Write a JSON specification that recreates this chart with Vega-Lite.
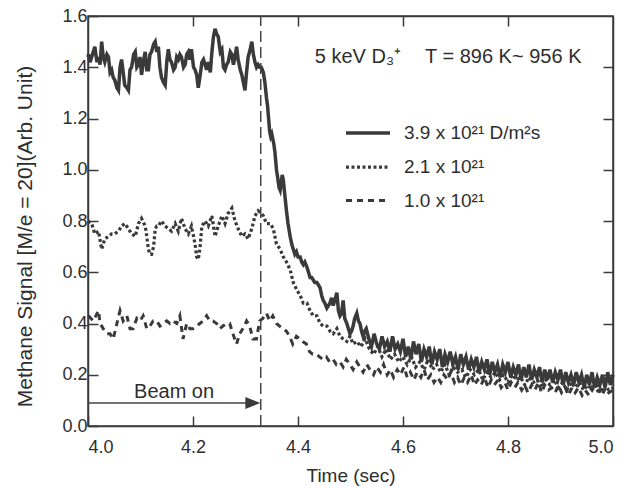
{
"$schema": "https://vega.github.io/schema/vega-lite/v6.json",
"width": 525, "height": 410,
"autosize": "none",
"padding": {"left": 88, "top": 16, "right": 23, "bottom": 62},
"background": "white",
"config": {
 "font": "Liberation Sans",
 "view": {"stroke": "#3a3a3a", "strokeWidth": 1.5},
 "axis": {"grid": false, "domainColor": "#3a3a3a", "domainWidth": 1.5, "tickColor": "#3a3a3a", "tickWidth": 1.5, "tickSize": -10, "labelFontSize": 18, "labelColor": "#2e2e2e", "titleFontSize": 19, "titleFontWeight": "normal", "titleColor": "#2e2e2e", "labelFont": "Liberation Sans", "titleFont": "Liberation Sans"}
},
"data": {"values": [{}]},
"datasets": {"sig": [
{"s":"a","t":4.000,"v":1.44},{"s":"a","t":4.001,"v":1.45},{"s":"a","t":4.004,"v":1.42},{"s":"a","t":4.007,"v":1.44},{"s":"a","t":4.010,"v":1.46},{"s":"a","t":4.013,"v":1.48},{"s":"a","t":4.017,"v":1.42},{"s":"a","t":4.020,"v":1.44},{"s":"a","t":4.023,"v":1.41},{"s":"a","t":4.026,"v":1.50},{"s":"a","t":4.029,"v":1.44},{"s":"a","t":4.032,"v":1.42},{"s":"a","t":4.036,"v":1.45},{"s":"a","t":4.039,"v":1.44},{"s":"a","t":4.042,"v":1.38},{"s":"a","t":4.045,"v":1.39},{"s":"a","t":4.048,"v":1.36},{"s":"a","t":4.051,"v":1.35},{"s":"a","t":4.055,"v":1.32},{"s":"a","t":4.058,"v":1.31},{"s":"a","t":4.061,"v":1.40},{"s":"a","t":4.064,"v":1.43},{"s":"a","t":4.067,"v":1.38},{"s":"a","t":4.070,"v":1.33},{"s":"a","t":4.074,"v":1.32},{"s":"a","t":4.077,"v":1.31},{"s":"a","t":4.080,"v":1.39},{"s":"a","t":4.083,"v":1.40},{"s":"a","t":4.087,"v":1.45},{"s":"a","t":4.090,"v":1.46},{"s":"a","t":4.093,"v":1.40},{"s":"a","t":4.096,"v":1.41},{"s":"a","t":4.099,"v":1.44},{"s":"a","t":4.102,"v":1.37},{"s":"a","t":4.106,"v":1.43},{"s":"a","t":4.109,"v":1.46},{"s":"a","t":4.112,"v":1.39},{"s":"a","t":4.115,"v":1.39},{"s":"a","t":4.118,"v":1.45},{"s":"a","t":4.121,"v":1.46},{"s":"a","t":4.125,"v":1.49},{"s":"a","t":4.128,"v":1.50},{"s":"a","t":4.131,"v":1.46},{"s":"a","t":4.134,"v":1.48},{"s":"a","t":4.137,"v":1.40},{"s":"a","t":4.140,"v":1.36},{"s":"a","t":4.144,"v":1.34},{"s":"a","t":4.147,"v":1.33},{"s":"a","t":4.150,"v":1.42},{"s":"a","t":4.153,"v":1.47},{"s":"a","t":4.156,"v":1.43},{"s":"a","t":4.159,"v":1.42},{"s":"a","t":4.163,"v":1.39},{"s":"a","t":4.166,"v":1.40},{"s":"a","t":4.169,"v":1.44},{"s":"a","t":4.172,"v":1.43},{"s":"a","t":4.175,"v":1.45},{"s":"a","t":4.178,"v":1.44},{"s":"a","t":4.182,"v":1.40},{"s":"a","t":4.185,"v":1.41},{"s":"a","t":4.188,"v":1.45},{"s":"a","t":4.191,"v":1.46},{"s":"a","t":4.194,"v":1.43},{"s":"a","t":4.197,"v":1.47},{"s":"a","t":4.201,"v":1.40},{"s":"a","t":4.204,"v":1.39},{"s":"a","t":4.207,"v":1.37},{"s":"a","t":4.210,"v":1.32},{"s":"a","t":4.213,"v":1.36},{"s":"a","t":4.217,"v":1.42},{"s":"a","t":4.220,"v":1.43},{"s":"a","t":4.223,"v":1.41},{"s":"a","t":4.226,"v":1.39},{"s":"a","t":4.229,"v":1.42},{"s":"a","t":4.233,"v":1.38},{"s":"a","t":4.236,"v":1.46},{"s":"a","t":4.239,"v":1.52},{"s":"a","t":4.242,"v":1.55},{"s":"a","t":4.245,"v":1.53},{"s":"a","t":4.248,"v":1.52},{"s":"a","t":4.252,"v":1.46},{"s":"a","t":4.255,"v":1.47},{"s":"a","t":4.258,"v":1.40},{"s":"a","t":4.261,"v":1.39},{"s":"a","t":4.264,"v":1.41},{"s":"a","t":4.267,"v":1.42},{"s":"a","t":4.271,"v":1.46},{"s":"a","t":4.274,"v":1.45},{"s":"a","t":4.277,"v":1.41},{"s":"a","t":4.280,"v":1.44},{"s":"a","t":4.283,"v":1.48},{"s":"a","t":4.286,"v":1.43},{"s":"a","t":4.290,"v":1.39},{"s":"a","t":4.293,"v":1.37},{"s":"a","t":4.296,"v":1.34},{"s":"a","t":4.299,"v":1.31},{"s":"a","t":4.302,"v":1.38},{"s":"a","t":4.305,"v":1.44},{"s":"a","t":4.309,"v":1.47},{"s":"a","t":4.312,"v":1.50},{"s":"a","t":4.315,"v":1.45},{"s":"a","t":4.318,"v":1.42},{"s":"a","t":4.321,"v":1.40},{"s":"a","t":4.324,"v":1.41},{"s":"a","t":4.327,"v":1.40},
{"s":"a","t":4.330,"v":1.40},{"s":"a","t":4.334,"v":1.38},{"s":"a","t":4.337,"v":1.34},{"s":"a","t":4.340,"v":1.28},{"s":"a","t":4.342,"v":1.25},{"s":"a","t":4.344,"v":1.20},{"s":"a","t":4.346,"v":1.15},{"s":"a","t":4.348,"v":1.13},{"s":"a","t":4.350,"v":1.14},{"s":"a","t":4.352,"v":1.12},{"s":"a","t":4.354,"v":1.10},{"s":"a","t":4.356,"v":1.07},{"s":"a","t":4.359,"v":1.00},{"s":"a","t":4.362,"v":0.96},{"s":"a","t":4.364,"v":0.93},{"s":"a","t":4.366,"v":0.92},{"s":"a","t":4.368,"v":0.95},{"s":"a","t":4.370,"v":0.98},{"s":"a","t":4.372,"v":0.96},{"s":"a","t":4.374,"v":0.92},{"s":"a","t":4.376,"v":0.88},{"s":"a","t":4.378,"v":0.84},{"s":"a","t":4.381,"v":0.79},{"s":"a","t":4.385,"v":0.74},{"s":"a","t":4.388,"v":0.71},{"s":"a","t":4.391,"v":0.69},{"s":"a","t":4.394,"v":0.67},{"s":"a","t":4.397,"v":0.68},{"s":"a","t":4.400,"v":0.66},{"s":"a","t":4.404,"v":0.66},{"s":"a","t":4.407,"v":0.64},{"s":"a","t":4.410,"v":0.63},{"s":"a","t":4.413,"v":0.64},{"s":"a","t":4.417,"v":0.62},{"s":"a","t":4.420,"v":0.60},{"s":"a","t":4.423,"v":0.58},{"s":"a","t":4.426,"v":0.58},{"s":"a","t":4.429,"v":0.57},{"s":"a","t":4.432,"v":0.56},{"s":"a","t":4.436,"v":0.56},{"s":"a","t":4.439,"v":0.55},{"s":"a","t":4.442,"v":0.54},{"s":"a","t":4.445,"v":0.51},{"s":"a","t":4.448,"v":0.49},{"s":"a","t":4.451,"v":0.48},{"s":"a","t":4.455,"v":0.46},{"s":"a","t":4.458,"v":0.47},{"s":"a","t":4.461,"v":0.48},{"s":"a","t":4.464,"v":0.50},{"s":"a","t":4.467,"v":0.47},{"s":"a","t":4.470,"v":0.49},{"s":"a","t":4.474,"v":0.52},{"s":"a","t":4.477,"v":0.45},{"s":"a","t":4.480,"v":0.43},{"s":"a","t":4.483,"v":0.44},{"s":"a","t":4.486,"v":0.49},{"s":"a","t":4.489,"v":0.42},{"s":"a","t":4.493,"v":0.40},{"s":"a","t":4.496,"v":0.38},{"s":"a","t":4.499,"v":0.36},{"s":"a","t":4.502,"v":0.37},{"s":"a","t":4.505,"v":0.39},{"s":"a","t":4.508,"v":0.42},{"s":"a","t":4.512,"v":0.44},{"s":"a","t":4.515,"v":0.41},{"s":"a","t":4.518,"v":0.40},{"s":"a","t":4.521,"v":0.37},{"s":"a","t":4.524,"v":0.35},{"s":"a","t":4.527,"v":0.37},{"s":"a","t":4.530,"v":0.38},
{"s":"a","t":4.535,"v":0.34},{"s":"a","t":4.540,"v":0.31},{"s":"a","t":4.545,"v":0.36},{"s":"a","t":4.550,"v":0.32},{"s":"a","t":4.555,"v":0.30},{"s":"a","t":4.560,"v":0.35},{"s":"a","t":4.565,"v":0.31},{"s":"a","t":4.570,"v":0.33},{"s":"a","t":4.575,"v":0.29},{"s":"a","t":4.580,"v":0.35},{"s":"a","t":4.585,"v":0.30},{"s":"a","t":4.590,"v":0.32},{"s":"a","t":4.595,"v":0.29},{"s":"a","t":4.600,"v":0.34},{"s":"a","t":4.605,"v":0.27},{"s":"a","t":4.610,"v":0.31},{"s":"a","t":4.615,"v":0.26},{"s":"a","t":4.620,"v":0.33},{"s":"a","t":4.625,"v":0.28},{"s":"a","t":4.630,"v":0.32},{"s":"a","t":4.635,"v":0.25},{"s":"a","t":4.640,"v":0.30},{"s":"a","t":4.645,"v":0.27},{"s":"a","t":4.650,"v":0.31},{"s":"a","t":4.655,"v":0.24},{"s":"a","t":4.660,"v":0.29},{"s":"a","t":4.665,"v":0.26},{"s":"a","t":4.670,"v":0.30},{"s":"a","t":4.675,"v":0.23},{"s":"a","t":4.680,"v":0.28},{"s":"a","t":4.685,"v":0.25},{"s":"a","t":4.690,"v":0.29},{"s":"a","t":4.695,"v":0.24},{"s":"a","t":4.700,"v":0.27},{"s":"a","t":4.705,"v":0.22},{"s":"a","t":4.710,"v":0.28},{"s":"a","t":4.715,"v":0.24},{"s":"a","t":4.720,"v":0.27},{"s":"a","t":4.725,"v":0.22},{"s":"a","t":4.730,"v":0.26},{"s":"a","t":4.735,"v":0.23},{"s":"a","t":4.740,"v":0.27},{"s":"a","t":4.745,"v":0.21},{"s":"a","t":4.750,"v":0.25},{"s":"a","t":4.755,"v":0.22},{"s":"a","t":4.760,"v":0.26},{"s":"a","t":4.765,"v":0.20},{"s":"a","t":4.770,"v":0.25},{"s":"a","t":4.775,"v":0.21},{"s":"a","t":4.780,"v":0.24},{"s":"a","t":4.785,"v":0.19},{"s":"a","t":4.790,"v":0.24},{"s":"a","t":4.795,"v":0.21},{"s":"a","t":4.800,"v":0.25},{"s":"a","t":4.805,"v":0.19},{"s":"a","t":4.810,"v":0.23},{"s":"a","t":4.815,"v":0.20},{"s":"a","t":4.820,"v":0.24},{"s":"a","t":4.825,"v":0.18},{"s":"a","t":4.830,"v":0.23},{"s":"a","t":4.835,"v":0.19},{"s":"a","t":4.840,"v":0.24},{"s":"a","t":4.845,"v":0.18},{"s":"a","t":4.850,"v":0.22},{"s":"a","t":4.855,"v":0.19},{"s":"a","t":4.860,"v":0.23},{"s":"a","t":4.865,"v":0.17},{"s":"a","t":4.870,"v":0.22},{"s":"a","t":4.875,"v":0.18},{"s":"a","t":4.880,"v":0.22},{"s":"a","t":4.885,"v":0.17},{"s":"a","t":4.890,"v":0.21},{"s":"a","t":4.895,"v":0.18},{"s":"a","t":4.900,"v":0.22},{"s":"a","t":4.905,"v":0.16},{"s":"a","t":4.910,"v":0.21},{"s":"a","t":4.915,"v":0.17},{"s":"a","t":4.920,"v":0.20},{"s":"a","t":4.925,"v":0.16},{"s":"a","t":4.930,"v":0.21},{"s":"a","t":4.935,"v":0.17},{"s":"a","t":4.940,"v":0.20},{"s":"a","t":4.945,"v":0.15},{"s":"a","t":4.950,"v":0.20},{"s":"a","t":4.955,"v":0.16},{"s":"a","t":4.960,"v":0.21},{"s":"a","t":4.965,"v":0.15},{"s":"a","t":4.970,"v":0.19},{"s":"a","t":4.975,"v":0.16},{"s":"a","t":4.980,"v":0.20},{"s":"a","t":4.985,"v":0.15},{"s":"a","t":4.990,"v":0.21},{"s":"a","t":4.995,"v":0.16},{"s":"a","t":5.000,"v":0.20},
{"s":"b","t":4.000,"v":0.80},{"s":"b","t":4.007,"v":0.79},{"s":"b","t":4.013,"v":0.75},{"s":"b","t":4.020,"v":0.76},{"s":"b","t":4.026,"v":0.69},{"s":"b","t":4.029,"v":0.71},{"s":"b","t":4.032,"v":0.73},{"s":"b","t":4.039,"v":0.74},{"s":"b","t":4.045,"v":0.75},{"s":"b","t":4.051,"v":0.75},{"s":"b","t":4.058,"v":0.76},{"s":"b","t":4.064,"v":0.78},{"s":"b","t":4.070,"v":0.79},{"s":"b","t":4.077,"v":0.77},{"s":"b","t":4.083,"v":0.75},{"s":"b","t":4.090,"v":0.74},{"s":"b","t":4.096,"v":0.79},{"s":"b","t":4.102,"v":0.81},{"s":"b","t":4.109,"v":0.78},{"s":"b","t":4.112,"v":0.74},{"s":"b","t":4.115,"v":0.69},{"s":"b","t":4.118,"v":0.67},{"s":"b","t":4.121,"v":0.67},{"s":"b","t":4.125,"v":0.70},{"s":"b","t":4.128,"v":0.77},{"s":"b","t":4.131,"v":0.78},{"s":"b","t":4.134,"v":0.78},{"s":"b","t":4.140,"v":0.80},{"s":"b","t":4.147,"v":0.78},{"s":"b","t":4.153,"v":0.77},{"s":"b","t":4.159,"v":0.76},{"s":"b","t":4.166,"v":0.79},{"s":"b","t":4.172,"v":0.76},{"s":"b","t":4.178,"v":0.81},{"s":"b","t":4.185,"v":0.77},{"s":"b","t":4.191,"v":0.75},{"s":"b","t":4.197,"v":0.78},{"s":"b","t":4.204,"v":0.71},{"s":"b","t":4.207,"v":0.66},{"s":"b","t":4.210,"v":0.65},{"s":"b","t":4.213,"v":0.69},{"s":"b","t":4.217,"v":0.78},{"s":"b","t":4.223,"v":0.80},{"s":"b","t":4.229,"v":0.78},{"s":"b","t":4.236,"v":0.82},{"s":"b","t":4.242,"v":0.74},{"s":"b","t":4.248,"v":0.78},{"s":"b","t":4.255,"v":0.82},{"s":"b","t":4.261,"v":0.79},{"s":"b","t":4.267,"v":0.83},{"s":"b","t":4.274,"v":0.85},{"s":"b","t":4.280,"v":0.80},{"s":"b","t":4.286,"v":0.77},{"s":"b","t":4.293,"v":0.74},{"s":"b","t":4.299,"v":0.75},{"s":"b","t":4.305,"v":0.73},{"s":"b","t":4.312,"v":0.77},{"s":"b","t":4.318,"v":0.82},{"s":"b","t":4.324,"v":0.84},{"s":"b","t":4.330,"v":0.83},
{"s":"b","t":4.334,"v":0.82},{"s":"b","t":4.340,"v":0.79},{"s":"b","t":4.347,"v":0.79},{"s":"b","t":4.353,"v":0.77},{"s":"b","t":4.359,"v":0.71},{"s":"b","t":4.366,"v":0.69},{"s":"b","t":4.372,"v":0.66},{"s":"b","t":4.378,"v":0.64},{"s":"b","t":4.385,"v":0.61},{"s":"b","t":4.391,"v":0.56},{"s":"b","t":4.398,"v":0.53},{"s":"b","t":4.404,"v":0.51},{"s":"b","t":4.410,"v":0.48},{"s":"b","t":4.417,"v":0.48},{"s":"b","t":4.423,"v":0.45},{"s":"b","t":4.429,"v":0.43},{"s":"b","t":4.436,"v":0.43},{"s":"b","t":4.442,"v":0.40},{"s":"b","t":4.448,"v":0.39},{"s":"b","t":4.455,"v":0.39},{"s":"b","t":4.461,"v":0.37},{"s":"b","t":4.467,"v":0.36},{"s":"b","t":4.474,"v":0.38},{"s":"b","t":4.480,"v":0.35},{"s":"b","t":4.486,"v":0.34},{"s":"b","t":4.493,"v":0.33},{"s":"b","t":4.499,"v":0.35},{"s":"b","t":4.505,"v":0.32},{"s":"b","t":4.512,"v":0.33},{"s":"b","t":4.520,"v":0.31},{"s":"b","t":4.528,"v":0.34},{"s":"b","t":4.536,"v":0.30},{"s":"b","t":4.544,"v":0.28},{"s":"b","t":4.552,"v":0.31},{"s":"b","t":4.560,"v":0.27},{"s":"b","t":4.568,"v":0.30},{"s":"b","t":4.576,"v":0.26},{"s":"b","t":4.584,"v":0.28},{"s":"b","t":4.592,"v":0.25},{"s":"b","t":4.600,"v":0.27},{"s":"b","t":4.608,"v":0.24},{"s":"b","t":4.616,"v":0.27},{"s":"b","t":4.624,"v":0.23},{"s":"b","t":4.632,"v":0.25},{"s":"b","t":4.640,"v":0.22},{"s":"b","t":4.648,"v":0.26},{"s":"b","t":4.656,"v":0.22},{"s":"b","t":4.664,"v":0.24},{"s":"b","t":4.672,"v":0.21},{"s":"b","t":4.680,"v":0.24},{"s":"b","t":4.688,"v":0.20},{"s":"b","t":4.696,"v":0.23},{"s":"b","t":4.704,"v":0.21},{"s":"b","t":4.712,"v":0.22},{"s":"b","t":4.720,"v":0.19},{"s":"b","t":4.728,"v":0.22},{"s":"b","t":4.736,"v":0.20},{"s":"b","t":4.744,"v":0.22},{"s":"b","t":4.752,"v":0.18},{"s":"b","t":4.760,"v":0.21},{"s":"b","t":4.768,"v":0.19},{"s":"b","t":4.776,"v":0.21},{"s":"b","t":4.784,"v":0.18},{"s":"b","t":4.792,"v":0.20},{"s":"b","t":4.800,"v":0.17},{"s":"b","t":4.808,"v":0.20},{"s":"b","t":4.816,"v":0.18},{"s":"b","t":4.824,"v":0.19},{"s":"b","t":4.832,"v":0.16},{"s":"b","t":4.840,"v":0.19},{"s":"b","t":4.848,"v":0.17},{"s":"b","t":4.856,"v":0.18},{"s":"b","t":4.864,"v":0.15},{"s":"b","t":4.872,"v":0.18},{"s":"b","t":4.880,"v":0.16},{"s":"b","t":4.888,"v":0.18},{"s":"b","t":4.896,"v":0.15},{"s":"b","t":4.904,"v":0.17},{"s":"b","t":4.912,"v":0.14},{"s":"b","t":4.920,"v":0.17},{"s":"b","t":4.928,"v":0.15},{"s":"b","t":4.936,"v":0.17},{"s":"b","t":4.944,"v":0.14},{"s":"b","t":4.952,"v":0.16},{"s":"b","t":4.960,"v":0.14},{"s":"b","t":4.968,"v":0.17},{"s":"b","t":4.976,"v":0.13},{"s":"b","t":4.984,"v":0.16},{"s":"b","t":4.992,"v":0.14},{"s":"b","t":5.000,"v":0.15},
{"s":"c","t":4.001,"v":0.43},{"s":"c","t":4.010,"v":0.41},{"s":"c","t":4.020,"v":0.45},{"s":"c","t":4.023,"v":0.40},{"s":"c","t":4.029,"v":0.38},{"s":"c","t":4.036,"v":0.36},{"s":"c","t":4.042,"v":0.36},{"s":"c","t":4.048,"v":0.34},{"s":"c","t":4.055,"v":0.40},{"s":"c","t":4.061,"v":0.45},{"s":"c","t":4.067,"v":0.41},{"s":"c","t":4.074,"v":0.43},{"s":"c","t":4.080,"v":0.38},{"s":"c","t":4.086,"v":0.38},{"s":"c","t":4.093,"v":0.42},{"s":"c","t":4.099,"v":0.41},{"s":"c","t":4.105,"v":0.43},{"s":"c","t":4.112,"v":0.38},{"s":"c","t":4.118,"v":0.39},{"s":"c","t":4.124,"v":0.41},{"s":"c","t":4.131,"v":0.41},{"s":"c","t":4.137,"v":0.39},{"s":"c","t":4.143,"v":0.40},{"s":"c","t":4.150,"v":0.41},{"s":"c","t":4.156,"v":0.40},{"s":"c","t":4.162,"v":0.41},{"s":"c","t":4.169,"v":0.40},{"s":"c","t":4.175,"v":0.43},{"s":"c","t":4.181,"v":0.34},{"s":"c","t":4.188,"v":0.40},{"s":"c","t":4.194,"v":0.38},{"s":"c","t":4.200,"v":0.38},{"s":"c","t":4.207,"v":0.39},{"s":"c","t":4.213,"v":0.40},{"s":"c","t":4.219,"v":0.41},{"s":"c","t":4.226,"v":0.43},{"s":"c","t":4.232,"v":0.41},{"s":"c","t":4.238,"v":0.41},{"s":"c","t":4.245,"v":0.40},{"s":"c","t":4.251,"v":0.38},{"s":"c","t":4.257,"v":0.39},{"s":"c","t":4.264,"v":0.40},{"s":"c","t":4.270,"v":0.40},{"s":"c","t":4.276,"v":0.36},{"s":"c","t":4.283,"v":0.32},{"s":"c","t":4.289,"v":0.36},{"s":"c","t":4.295,"v":0.38},{"s":"c","t":4.302,"v":0.41},{"s":"c","t":4.308,"v":0.39},{"s":"c","t":4.314,"v":0.34},{"s":"c","t":4.321,"v":0.34},{"s":"c","t":4.327,"v":0.41},{"s":"c","t":4.333,"v":0.42},{"s":"c","t":4.340,"v":0.44},{"s":"c","t":4.346,"v":0.41},{"s":"c","t":4.352,"v":0.43},{"s":"c","t":4.359,"v":0.40},{"s":"c","t":4.365,"v":0.39},{"s":"c","t":4.371,"v":0.38},{"s":"c","t":4.378,"v":0.37},{"s":"c","t":4.384,"v":0.35},{"s":"c","t":4.390,"v":0.32},{"s":"c","t":4.397,"v":0.35},{"s":"c","t":4.403,"v":0.34},{"s":"c","t":4.409,"v":0.33},{"s":"c","t":4.416,"v":0.32},{"s":"c","t":4.422,"v":0.29},{"s":"c","t":4.428,"v":0.28},{"s":"c","t":4.435,"v":0.28},{"s":"c","t":4.441,"v":0.27},{"s":"c","t":4.447,"v":0.26},{"s":"c","t":4.454,"v":0.27},{"s":"c","t":4.460,"v":0.25},{"s":"c","t":4.467,"v":0.26},{"s":"c","t":4.473,"v":0.24},{"s":"c","t":4.480,"v":0.25},{"s":"c","t":4.486,"v":0.23},{"s":"c","t":4.492,"v":0.26},{"s":"c","t":4.499,"v":0.24},{"s":"c","t":4.505,"v":0.22},{"s":"c","t":4.512,"v":0.25},{"s":"c","t":4.518,"v":0.23},{"s":"c","t":4.524,"v":0.21},{"s":"c","t":4.531,"v":0.24},{"s":"c","t":4.537,"v":0.22},{"s":"c","t":4.544,"v":0.20},{"s":"c","t":4.550,"v":0.23},{"s":"c","t":4.557,"v":0.21},{"s":"c","t":4.563,"v":0.24},{"s":"c","t":4.570,"v":0.20},{"s":"c","t":4.576,"v":0.22},{"s":"c","t":4.582,"v":0.19},{"s":"c","t":4.589,"v":0.22},{"s":"c","t":4.595,"v":0.20},{"s":"c","t":4.602,"v":0.23},{"s":"c","t":4.608,"v":0.19},{"s":"c","t":4.614,"v":0.21},{"s":"c","t":4.621,"v":0.18},{"s":"c","t":4.627,"v":0.21},{"s":"c","t":4.634,"v":0.19},{"s":"c","t":4.640,"v":0.22},{"s":"c","t":4.646,"v":0.18},{"s":"c","t":4.653,"v":0.20},{"s":"c","t":4.659,"v":0.17},{"s":"c","t":4.666,"v":0.19},{"s":"c","t":4.672,"v":0.17},{"s":"c","t":4.678,"v":0.20},{"s":"c","t":4.685,"v":0.18},{"s":"c","t":4.691,"v":0.21},{"s":"c","t":4.698,"v":0.17},{"s":"c","t":4.704,"v":0.19},{"s":"c","t":4.710,"v":0.16},{"s":"c","t":4.717,"v":0.19},{"s":"c","t":4.723,"v":0.17},{"s":"c","t":4.730,"v":0.20},{"s":"c","t":4.736,"v":0.16},{"s":"c","t":4.742,"v":0.18},{"s":"c","t":4.749,"v":0.16},{"s":"c","t":4.755,"v":0.19},{"s":"c","t":4.762,"v":0.15},{"s":"c","t":4.768,"v":0.18},{"s":"c","t":4.774,"v":0.16},{"s":"c","t":4.781,"v":0.18},{"s":"c","t":4.787,"v":0.15},{"s":"c","t":4.794,"v":0.17},{"s":"c","t":4.800,"v":0.14},{"s":"c","t":4.806,"v":0.17},{"s":"c","t":4.813,"v":0.15},{"s":"c","t":4.819,"v":0.17},{"s":"c","t":4.826,"v":0.14},{"s":"c","t":4.832,"v":0.16},{"s":"c","t":4.838,"v":0.13},{"s":"c","t":4.845,"v":0.16},{"s":"c","t":4.851,"v":0.14},{"s":"c","t":4.858,"v":0.17},{"s":"c","t":4.864,"v":0.13},{"s":"c","t":4.870,"v":0.16},{"s":"c","t":4.877,"v":0.14},{"s":"c","t":4.883,"v":0.15},{"s":"c","t":4.890,"v":0.13},{"s":"c","t":4.896,"v":0.16},{"s":"c","t":4.902,"v":0.13},{"s":"c","t":4.909,"v":0.15},{"s":"c","t":4.915,"v":0.12},{"s":"c","t":4.922,"v":0.15},{"s":"c","t":4.928,"v":0.13},{"s":"c","t":4.934,"v":0.15},{"s":"c","t":4.941,"v":0.12},{"s":"c","t":4.947,"v":0.14},{"s":"c","t":4.954,"v":0.12},{"s":"c","t":4.960,"v":0.15},{"s":"c","t":4.966,"v":0.13},{"s":"c","t":4.973,"v":0.14},{"s":"c","t":4.979,"v":0.12},{"s":"c","t":4.986,"v":0.15},{"s":"c","t":4.992,"v":0.13},{"s":"c","t":5.000,"v":0.14}
]},
"layer": [
 {
  "data": {"name": "sig"},
  "mark": {"type": "line", "color": "#3a3a3a", "strokeCap": "butt", "strokeJoin": "miter"},
  "encoding": {
   "x": {"field": "t", "type": "quantitative", "scale": {"domain": [4, 5], "nice": false, "zero": false},
         "axis": {"values": [4, 4.2, 4.4, 4.6, 4.8, 5], "format": ".1f", "title": "Time (sec)", "labelPadding": 22, "titlePadding": 10}},
   "y": {"field": "v", "type": "quantitative", "scale": {"domain": [0, 1.6], "nice": false, "zero": false},
         "axis": {"values": [0, 0.2, 0.4, 0.6, 0.8, 1.0, 1.2, 1.4, 1.6], "format": ".1f", "title": "Methane Signal [M/e = 20](Arb. Unit)", "titleFontSize": 21, "titleY": 220, "labelPadding": 11, "titlePadding": 26}},
   "strokeDash": {"field": "s", "type": "nominal",
      "scale": {"domain": ["a", "b", "c"], "range": [[1, 0], [3, 2.5], [6, 5]]},
      "legend": {"title": null, "orient": "none", "legendX": 256, "legendY": 93, "symbolType": "stroke", "symbolSize": 1936, "symbolStrokeWidth": 3, "symbolStrokeColor": "#3a3a3a", "labelFontSize": 19, "labelColor": "#2e2e2e", "labelFont": "Liberation Sans", "labelOffset": 12, "rowPadding": -4,
        "labelExpr": "datum.label == 'a' ? '3.9 x 10²¹ D/m²s' : datum.label == 'b' ? '2.1 x 10²¹' : '1.0 x 10²¹'"}},
   "strokeWidth": {"field": "s", "type": "nominal", "scale": {"domain": ["a", "b", "c"], "range": [3.5, 3, 2.5]}, "legend": null}
  }
 },
 {
  "mark": {"type": "rule", "stroke": "#444", "strokeWidth": 1.5, "strokeDash": [11, 5]},
  "encoding": {"x": {"datum": 4.329, "type": "quantitative", "axis": null}, "y": {"datum": 0, "type": "quantitative", "axis": null}, "y2": {"datum": 1.6}}
 },
 {
  "mark": {"type": "rule", "stroke": "#444", "strokeWidth": 1.5},
  "encoding": {"x": {"datum": 4.0, "type": "quantitative", "axis": null}, "x2": {"datum": 4.316}, "y": {"datum": 0.09, "type": "quantitative", "axis": null}}
 },
 {
  "mark": {"type": "point", "shape": "M-1,-0.8L1,0L-1,0.8Z", "size": 225, "filled": true, "color": "#3a3a3a", "opacity": 1},
  "encoding": {"x": {"datum": 4.314, "type": "quantitative", "axis": null}, "y": {"datum": 0.09, "type": "quantitative", "axis": null}}
 },
 {
  "mark": {"type": "text", "text": "Beam on", "fontSize": 20, "color": "#2e2e2e", "align": "center", "baseline": "middle"},
  "encoding": {"x": {"datum": 4.164, "type": "quantitative", "axis": null}, "y": {"datum": 0.134, "type": "quantitative", "axis": null}}
 },
 {
  "mark": {"type": "text", "text": "5 keV D₃⁺", "fontSize": 20, "color": "#2e2e2e", "align": "left", "baseline": "middle"},
  "encoding": {"x": {"datum": 4.432, "type": "quantitative", "axis": null}, "y": {"datum": 1.441, "type": "quantitative", "axis": null}}
 },
 {
  "mark": {"type": "text", "text": "T = 896 K~ 956 K", "fontSize": 20, "color": "#2e2e2e", "align": "left", "baseline": "middle"},
  "encoding": {"x": {"datum": 4.642, "type": "quantitative", "axis": null}, "y": {"datum": 1.441, "type": "quantitative", "axis": null}}
 },
 {
  "data": {"name": "sig"},
  "mark": {"type": "point", "opacity": 0},
  "encoding": {
   "x": {"field": "t", "type": "quantitative", "axis": {"orient": "top", "labels": false, "title": null, "values": [4.2, 4.4, 4.6, 4.8]}},
   "y": {"field": "v", "type": "quantitative", "axis": {"orient": "right", "labels": false, "title": null, "values": [0.2, 0.4, 0.6, 0.8, 1.0, 1.2, 1.4]}}
  }
 }
],
"resolve": {"axis": {"x": "independent", "y": "independent"}}
}
